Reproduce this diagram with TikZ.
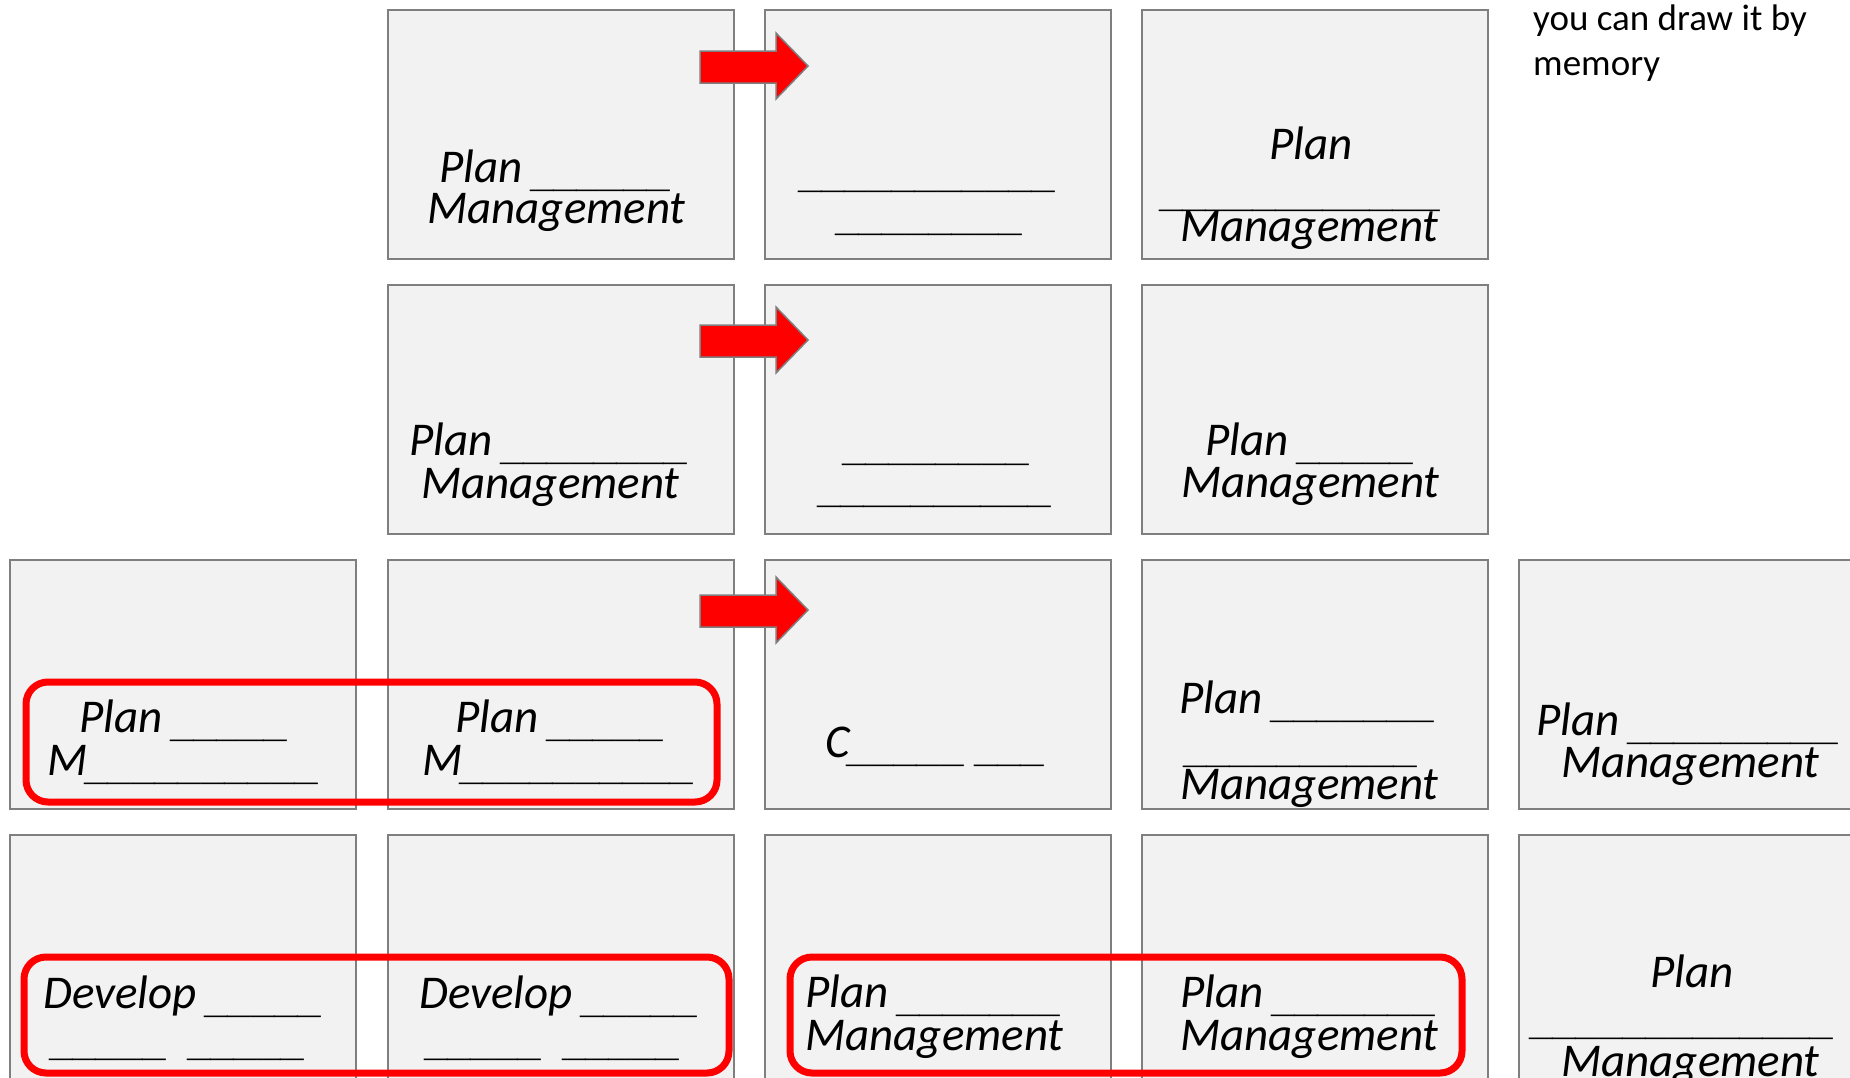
\documentclass[tikz,border=0pt]{standalone}
\usepackage{fontspec}
\setmainfont{Carlito}
\newfontfamily\ulfont{Liberation Sans}
\definecolor{cardfill}{HTML}{F2F2F2}
\definecolor{cardline}{HTML}{7F7F7F}
\definecolor{hlred}{HTML}{FF0000}
\ExplSyntaxOn
\cs_new:Npn \myblankrun #1 { \prg_replicate:nn {#1} { \_ } }
\ExplSyntaxOff
\newcommand\ubar[1]{\raisebox{-4pt}{\ulfont\fontsize{42}{42}\selectfont\myblankrun{#1}}}
\begin{document}
\begin{tikzpicture}[x=1pt,y=-1pt,
  card/.style={draw=cardline, fill=cardfill, line width=2pt, minimum width=346pt, minimum height=249pt, anchor=north west, inner sep=0pt},
  lbl/.style={anchor=base west, inner sep=0pt, font=\fontsize{47}{47}\selectfont\itshape},
  note/.style={anchor=base west, inner sep=0pt, font=\fontsize{37}{44}\selectfont},
  hl/.style={draw=hlred, line width=7pt, rounded corners=22pt},
  blockarrow/.style={fill=hlred, draw=cardline, line width=1.5pt, line join=miter}]
\useasboundingbox (0,0) rectangle (1850,1077);
\clip (0,0) rectangle (1850,1077);
% cards
\node[card] (c12) at (387,9) {};
\node[card] (c13) at (764,9) {};
\node[card] (c14) at (1141,9) {};
\node[card] (c22) at (387,284) {};
\node[card] (c23) at (764,284) {};
\node[card] (c24) at (1141,284) {};
\node[card] (c31) at (9,559) {};
\node[card] (c32) at (387,559) {};
\node[card] (c33) at (764,559) {};
\node[card] (c34) at (1141,559) {};
\node[card] (c35) at (1518,559) {};
\node[card] (c41) at (9,834) {};
\node[card] (c42) at (387,834) {};
\node[card] (c43) at (764,834) {};
\node[card] (c44) at (1141,834) {};
\node[card] (c45) at (1518,834) {};
% block arrows
\draw[blockarrow] (700,51) -- (776,51) -- (776,33) -- (808,66) -- (776,99) -- (776,83) -- (700,83) -- cycle;
\draw[blockarrow] (700,325) -- (776,325) -- (776,307) -- (808,340) -- (776,373) -- (776,357) -- (700,357) -- cycle;
\draw[blockarrow] (700,595) -- (776,595) -- (776,577) -- (808,610) -- (776,643) -- (776,627) -- (700,627) -- cycle;
% highlight frames
\draw[hl] (26,682) rectangle (717,802);
\draw[hl] (24,957) rectangle (729,1073);
\draw[hl] (790,957) rectangle (1462,1073);
% row 1 texts
\node[lbl] (t1a) at (439,182) {Plan \ubar{6}};
\node[lbl] (t1b) at (427,223) {Management};
\node[lbl] (t2a) at (801,183) {\ubar{11}};
\node[lbl] (t2b) at (838,226) {\ubar{8}};
\node[lbl] (t3a) at (1269,159) {Plan};
\node[lbl] (t3b) at (1162,202) {\ubar{12}};
\node[lbl] (t3c) at (1180,241) {Management};
% row 2 texts
\node[lbl] (t4a) at (409,455) {Plan \ubar{8}};
\node[lbl] (t4b) at (421,498) {Management};
\node[lbl] (t5a) at (845,456) {\ubar{8}};
\node[lbl] (t5b) at (820,498) {\ubar{10}};
\node[lbl] (t6a) at (1205,455) {Plan \ubar{5}};
\node[lbl] (t6b) at (1181,497) {Management};
% row 3 texts
\node[lbl] (t7a) at (79,732) {Plan \ubar{5}};
\node[lbl] (t7b) at (47,775) {M\ubar{10}};
\node[lbl] (t8a) at (455,732) {Plan \ubar{5}};
\node[lbl] (t8b) at (422,775) {M\ubar{10}};
\node[lbl] (t9a) at (825,757) {C\ubar{5} \ubar{3}};
\node[lbl] (t10a) at (1179,713) {Plan \ubar{7}};
\node[lbl] (t10b) at (1186,758) {\ubar{10}};
\node[lbl] (t10c) at (1180,799) {Management};
\node[lbl] (t11a) at (1536,735) {Plan \ubar{9}};
\node[lbl] (t11b) at (1561,777) {Management};
% row 4 texts
\node[lbl] (t12a) at (43,1008) {Develop \ubar{5}};
\node[lbl] (t12b) at (52,1051) {\ubar{5}~~\ubar{5}};
\node[lbl] (t13a) at (419,1008) {Develop \ubar{5}};
\node[lbl] (t13b) at (427,1051) {\ubar{5}~~\ubar{5}};
\node[lbl] (t14a) at (805,1007) {Plan \ubar{7}};
\node[lbl] (t14b) at (805,1050) {Management};
\node[lbl] (t15a) at (1180,1007) {Plan \ubar{7}};
\node[lbl] (t15b) at (1180,1050) {Management};
\node[lbl] (t16a) at (1650,987) {Plan};
\node[lbl] (t16b) at (1532,1030) {\ubar{13}};
\node[lbl] (t16c) at (1561,1076) {Management};
% note
\node[note] (n1) at (1533,30) {you can draw it by};
\node[note] (n2) at (1533,75) {memory};
\end{tikzpicture}
\end{document}
